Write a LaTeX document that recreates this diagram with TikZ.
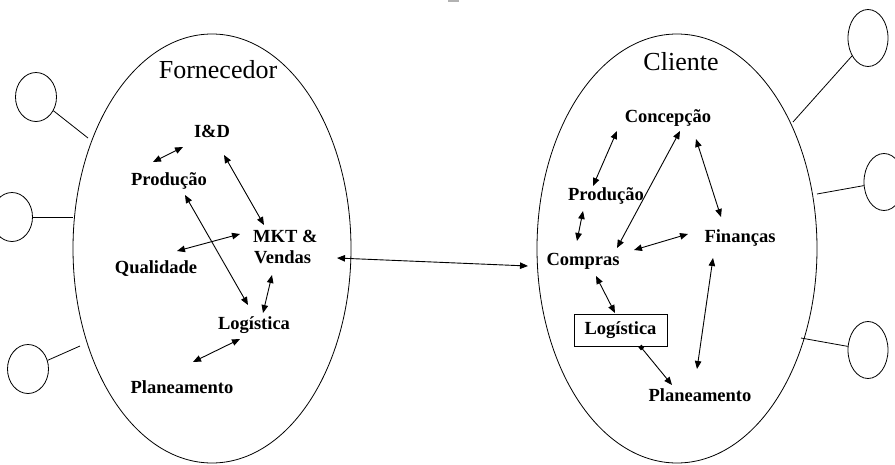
\documentclass[tikz,border=0pt]{standalone}
\usepackage{fontspec}
\setmainfont{Liberation Serif}
\usetikzlibrary{arrows.meta,shapes.geometric}
\begin{document}
\begin{tikzpicture}[x=1pt,y=-1pt,
  lbl/.style={font=\fontsize{18.5}{21}\selectfont\bfseries, inner sep=0pt, anchor=base},
  ttl/.style={font=\fontsize{26}{30}\selectfont, inner sep=0pt, anchor=base},
  link/.style={line width=0.9pt, {Triangle[length=8pt,width=6.5pt]}-{Triangle[length=8pt,width=6.5pt]}},
  org/.style={draw, line width=0.8pt},
  sat/.style={draw, ellipse, line width=0.8pt, inner sep=0pt},
  tie/.style={line width=0.8pt},
  boxed/.style={draw, line width=0.8pt, minimum width=93pt, minimum height=32pt, inner sep=0pt,
    font=\fontsize{18.5}{21}\selectfont\bfseries}]
\useasboundingbox (0,0) rectangle (895,464);
\clip (0,0) rectangle (895,464);

% small mark at the top edge
\fill[gray!60] (448,0) rectangle (459,1.5);

% the two organisations
\draw[org] (212,248.5) ellipse [x radius=139, y radius=214.5];
\draw[org] (677,248.5) ellipse [x radius=140, y radius=214.5];
\node[ttl] (forn) at (218,78) {Fornecedor};
\node[ttl] (cli)  at (681,70) {Cliente};

% satellites of the supplier
\node[sat, minimum width=41pt, minimum height=49pt] (s1) at (36,97) {};
\node[sat, minimum width=41pt, minimum height=49pt] (s2) at (12,217) {};
\node[sat, minimum width=41pt, minimum height=49pt] (s3) at (28,369) {};
\coordinate (e1) at (88,138);
\coordinate (e2) at (73,217);
\coordinate (e3) at (80,346);
\draw[tie] (s1) -- (e1);
\draw[tie] (s2) -- (e2);
\draw[tie] (s3) -- (e3);

% satellites of the client
\node[sat, minimum width=40pt, minimum height=57pt] (r1) at (868,38) {};
\node[sat, minimum width=40pt, minimum height=57pt] (r2) at (884,182) {};
\node[sat, minimum width=40pt, minimum height=57pt] (r3) at (868,350) {};
\coordinate (f1) at (793,122);
\coordinate (f2) at (817,194);
\coordinate (f3) at (801,338);
\draw[tie] (r1) -- (f1);
\draw[tie] (r2) -- (f2);
\draw[tie] (r3) -- (f3);

% supplier functions
\node[lbl] (id)   at (212,137) {I\&D};
\node[lbl] (prodA) at (169,185) {Produção};
\node[lbl, anchor=base west] (mkt) at (253,242) {MKT \&};
\node[lbl, anchor=base west] (vend) at (254,263) {Vendas};
\node[lbl] (qual) at (156,273) {Qualidade};
\node[lbl] (logA) at (254,329) {Logística};
\node[lbl] (planA) at (182,393) {Planeamento};

% client functions
\node[lbl] (conc) at (668,122) {Concepção};
\node[lbl] (prodB) at (606,200) {Produção};
\node[lbl] (fin)  at (740,242) {Finanças};
\node[lbl] (comp) at (583,265) {Compras};
\node[boxed] (logB) at (620.5,330) {Logística};
\node[lbl] (planB) at (700,401) {Planeamento};

% arrow end points, supplier side
\coordinate (a1) at (153,162);  \coordinate (a2) at (183,147);
\coordinate (b1) at (224,155);  \coordinate (b2) at (264,225);
\coordinate (c1) at (185,195);  \coordinate (c2) at (248,305);
\coordinate (d1) at (177,251);  \coordinate (d2) at (240,234);
\coordinate (g1) at (272,275);  \coordinate (g2) at (263,313);
\coordinate (h1) at (240,339);  \coordinate (h2) at (193,362);

\draw[link] (a1) -- (a2);
\draw[link] (b1) -- (b2);
\draw[link] (c1) -- (c2);
\draw[link] (d1) -- (d2);
\draw[link] (g1) -- (g2);
\draw[link] (h1) -- (h2);

% link between supplier and client
\coordinate (m1) at (337,258);  \coordinate (m2) at (528,266);
\draw[link] (m1) -- (m2);

% arrow end points, client side
\coordinate (p1) at (617,131);  \coordinate (p2) at (593,186);
\coordinate (q1) at (680,131);  \coordinate (q2) at (617,248);
\coordinate (u1) at (696,139);  \coordinate (u2) at (721,217);
\coordinate (v1) at (583,211);  \coordinate (v2) at (577,241);
\coordinate (w1) at (634,250);  \coordinate (w2) at (688,234);
\coordinate (z1) at (713,258);  \coordinate (z2) at (697,369);
\coordinate (k1) at (596,276);  \coordinate (k2) at (615,313);
\coordinate (n1) at (640,346);  \coordinate (n2) at (672,385);

\draw[link] (p1) -- (p2);
\draw[link] (q1) -- (q2);
\draw[link] (u1) -- (u2);
\draw[link] (v1) -- (v2);
\draw[link] (w1) -- (w2);
\draw[link] (z1) -- (z2);
\draw[link] (k1) -- (k2);
\draw[line width=0.9pt, {Square[length=4pt,width=4pt]}-{Triangle[length=8pt,width=6.5pt]}] (n1) -- (n2);
\end{tikzpicture}
\end{document}
